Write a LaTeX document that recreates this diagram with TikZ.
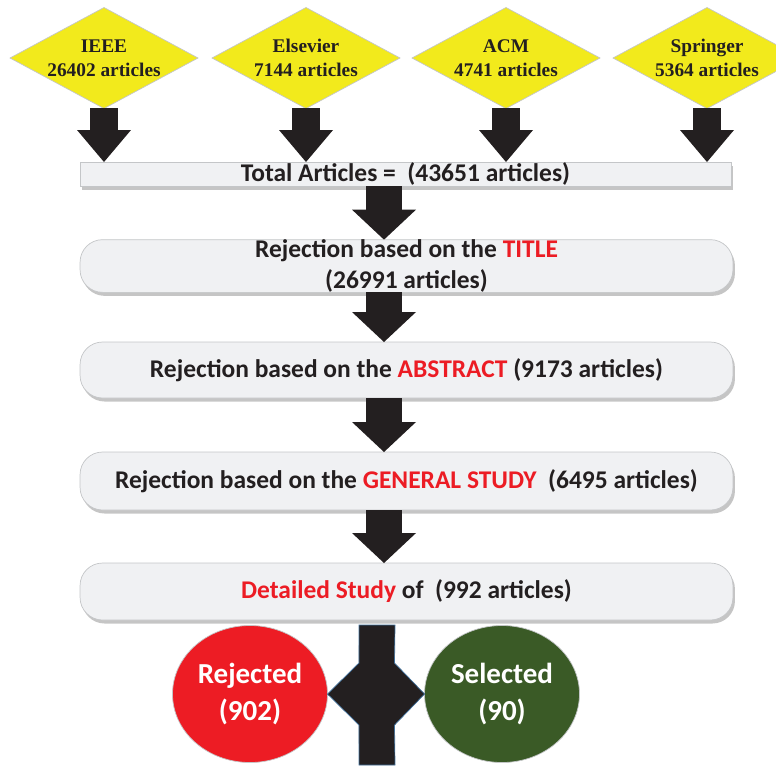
\documentclass[tikz,border=0pt]{standalone}
\usepackage{fontspec}
\setmainfont{Carlito}
\newfontfamily\timesfont{Liberation Serif}
\usepackage{tikz}
\usetikzlibrary{shapes,arrows.meta,positioning,calc,shadows}
\definecolor{pubyellow}{HTML}{F2EA1C}
\definecolor{boxgray}{HTML}{F0F1F3}
\definecolor{edgegray}{HTML}{C4C6C8}
\definecolor{hired}{HTML}{EC1C24}
\definecolor{rejred}{HTML}{ED1C24}
\definecolor{selgreen}{HTML}{3A5A26}
\definecolor{inkdark}{HTML}{231F20}
\definecolor{barblue}{HTML}{41719C}
\newcommand{\Hi}[1]{\textcolor{hired}{#1}}

\begin{document}
\begin{tikzpicture}[
			x=0.02cm, y=-0.02cm,
			source/.style={
				diamond,
				fill=pubyellow,
				draw=edgegray,
				thin,
				minimum width=3.76cm,
				minimum height=2.02cm,
				inner sep=-8pt,
				outer sep=0pt,
				align=center,
				text=inkdark,
				font=\timesfont\bfseries\fontsize{11}{13.5}\selectfont
			},
			total/.style={
				rectangle,
				fill=boxgray,
				draw=edgegray,
				minimum width=13.02cm,
				minimum height=0.48cm,
				inner sep=0pt,
				outer sep=0pt,
				text=inkdark,
				font=\bfseries\fontsize{14.5}{15}\selectfont,
				drop shadow={shadow xshift=0.04cm, shadow yshift=-0.07cm, fill=black!45, opacity=0.5}
			},
			stage/.style={
				rectangle,
				rounded corners=0.45cm,
				fill=boxgray,
				draw=edgegray,
				minimum width=13.06cm,
				inner sep=0pt,
				outer sep=0pt,
				align=center,
				text=inkdark,
				font=\bfseries\fontsize{14.5}{17.6}\selectfont,
				drop shadow={shadow xshift=0.04cm, shadow yshift=-0.07cm, fill=black!45, opacity=0.5}
			},
			result/.style={
				ellipse,
				draw=edgegray,
				minimum width=3.1cm,
				minimum height=2.74cm,
				inner sep=0pt,
				outer sep=0pt,
				align=center,
				text=white,
				font=\bfseries\fontsize{16.5}{21}\selectfont
			},
			feed/.style={draw=inkdark, line width=0.56cm, -{Triangle[width=1.08cm,length=0.64cm,line width=0pt]}},
			flow/.style={draw=inkdark, line width=0.72cm, -{Triangle[width=1.28cm,length=0.6cm,line width=0pt]}}
			]
			\useasboundingbox (0,0) rectangle (776,765);
			\clip (0,0) rectangle (776,765);
			% Publishers
			\node[source] (ieee) at (104,58) {IEEE\\26402 articles};
			\node[source] (elsevier) at (306,58) {Elsevier\\7144 articles};
			\node[source] (acm) at (506,58) {ACM\\4741 articles};
			\node[source] (springer) at (707,58) {Springer\\5364 articles};
			% Screening stages
			\node[total] (total) at (405.5,174) {Total Articles =~ (43651 articles)};
			\node[stage, minimum height=1.04cm] (title) at (406.5,266) {Rejection based on the \Hi{TITLE}\\(26991 articles)};
			\node[stage, minimum height=1.12cm] (abstract) at (406.5,370) {Rejection based on the \Hi{ABSTRACT} (9173 articles)};
			\node[stage, minimum height=1.16cm] (general) at (406.5,481) {Rejection based on the \Hi{GENERAL STUDY}~ (6495 articles)};
			\node[stage, minimum height=1.14cm] (detail) at (406.5,591.5) {\Hi{Detailed Study} of~ (992 articles)};
			% Outcome
			\node[result, fill=rejred] (rejected) at (250,694) {Rejected\\(902)};
			\node[result, fill=selgreen] (selected) at (502,694) {Selected\\(90)};
			\coordinate (spine) at (384,0);
			\coordinate (split) at (377,765);
			% Publisher arrows
			\draw[feed] (ieee.south) -- (ieee.south |- total.north);
			\draw[feed] (elsevier.south) -- (elsevier.south |- total.north);
			\draw[feed] (acm.south) -- (acm.south |- total.north);
			\draw[feed] (springer.south) -- (springer.south |- total.north);
			% Stage arrows
			\draw[flow] (total.south -| spine) -- (title.north -| spine);
			\draw[flow] (title.south -| spine) -- (abstract.north -| spine);
			\draw[flow] (abstract.south -| spine) -- (general.north -| spine);
			\draw[flow] (general.south -| spine) -- (detail.north -| spine);
			% Split into rejected / selected
			\filldraw[fill=inkdark, draw=barblue, thin]
				($(detail.south -| split)+(-18,5)$) -- ($(detail.south -| split)+(18,5)$)
				-- ($(selected.west)+(-30,-31)$) -- (selected.west) -- ($(selected.west)+(-30,31)$)
				-- ($(split)+(18,0)$) -- ($(split)+(-18,0)$)
				-- ($(rejected.east)+(31.5,31)$) -- (rejected.east) -- ($(rejected.east)+(31.5,-31)$)
				-- cycle;
		\end{tikzpicture}
\end{document}
